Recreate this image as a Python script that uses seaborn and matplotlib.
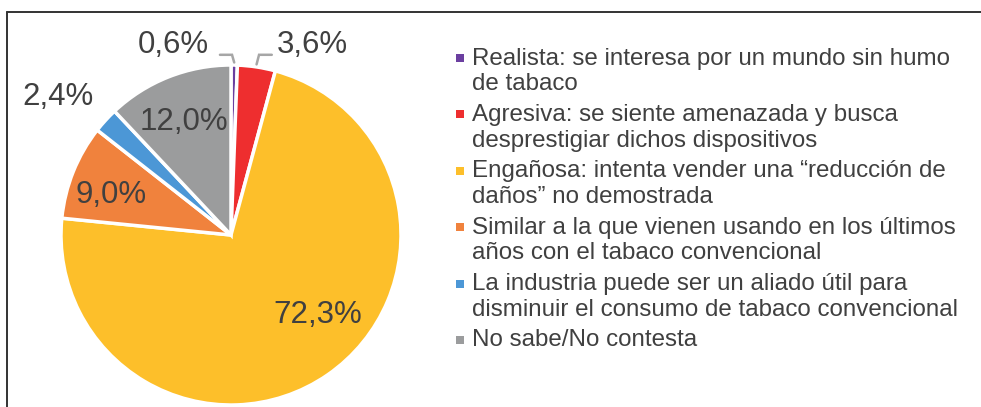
import numpy as np
import matplotlib
matplotlib.use("Agg")
import matplotlib.pyplot as plt
from matplotlib.lines import Line2D
import seaborn as sns

# data
categories = [
    "Realista: se interesa por un mundo sin humo\nde tabaco",
    "Agresiva: se siente amenazada y busca\ndesprestigiar dichos dispositivos",
    "Engañosa: intenta vender una “reducción de\ndaños” no demostrada",
    "Similar a la que vienen usando en los últimos\naños con el tabaco convencional",
    "La industria puede ser un aliado útil para\ndisminuir el consumo de tabaco convencional",
    "No sabe/No contesta",
]
values = [0.6, 3.6, 72.3, 9.0, 2.4, 12.0]
pct_labels = ["0,6%", "3,6%", "72,3%", "9,0%", "2,4%", "12,0%"]
colors = ["#6B3FA0", "#EE2E2F", "#FDBF2A", "#F0823D", "#4C97D6", "#9B9C9D"]

# label placement (radius, angle clockwise from top, degrees)
label_r = [1.17, 1.215, 0.695, 0.745, 1.30, 0.72]
label_ang = [-17.0, 23.1, 132.6, 288.5, 308.6, 337.4]

sns.set_style("white")
plt.rcParams["font.family"] = ["Liberation Sans", "DejaVu Sans"]
txt_color = "#404040"

W, H = 981, 407
fig = plt.figure(figsize=(W / 100, H / 100), dpi=100)

# pie axes: center (231, 235) px, radius 170 px
cx, cy, R = 231, 235, 170
ax = fig.add_axes([(cx - R) / W, (H - cy - R) / H, 2 * R / W, 2 * R / H])
wedges, _ = ax.pie(values, colors=colors, startangle=90, counterclock=False,
                   wedgeprops=dict(edgecolor="white", linewidth=2.5))
ax.set_xlim(-1, 1)
ax.set_ylim(-1, 1)
ax.set_aspect("equal")
ax.axis("off")

for lab, r, a in zip(pct_labels, label_r, label_ang):
    t = np.deg2rad(a)
    ax.text(r * np.sin(t), r * np.cos(t), lab, ha="center", va="center",
            fontsize=22.5, color=txt_color, clip_on=False)

# leader lines for the two small slices
cum = np.cumsum([0] + values[:-1])
for i, (elbow_dx, end_dx) in zip([0, 1], [(0.006, -0.065), (0.165, 0.24)]):
    mid = np.deg2rad((cum[i] + values[i] / 2) / sum(values) * 360)
    x0, y0 = np.sin(mid), np.cos(mid)
    ax.plot([x0, elbow_dx, end_dx], [y0 + 0.015, 1.06, 1.06], color="#A6A6A6",
            lw=1.8, clip_on=False, solid_joinstyle="miter")

# legend drawn manually so markers line up with the first line of each item
lax = fig.add_axes([0, 0, 1, 1])
lax.set_xlim(0, W)
lax.set_ylim(H, 0)
lax.axis("off")
top, step = 57, 56.4
for i, (lab, c) in enumerate(zip(categories, colors)):
    y = top + i * step
    lax.scatter([460], [y + 1], marker="s", s=30, color=c, linewidths=0)
    lax.text(472, y - 9.5, lab, fontsize=17.4, color=txt_color, va="top",
             ha="left", linespacing=1.22)

# frame (only left and top edges visible in the crop)
fig.add_artist(Line2D([7 / W, 7 / W], [0, 1 - 12 / H], color="#333333", lw=1.4))
fig.add_artist(Line2D([7 / W, 1], [1 - 12 / H, 1 - 12 / H], color="#333333", lw=1.4))

fig.savefig("out.png", dpi=100)
